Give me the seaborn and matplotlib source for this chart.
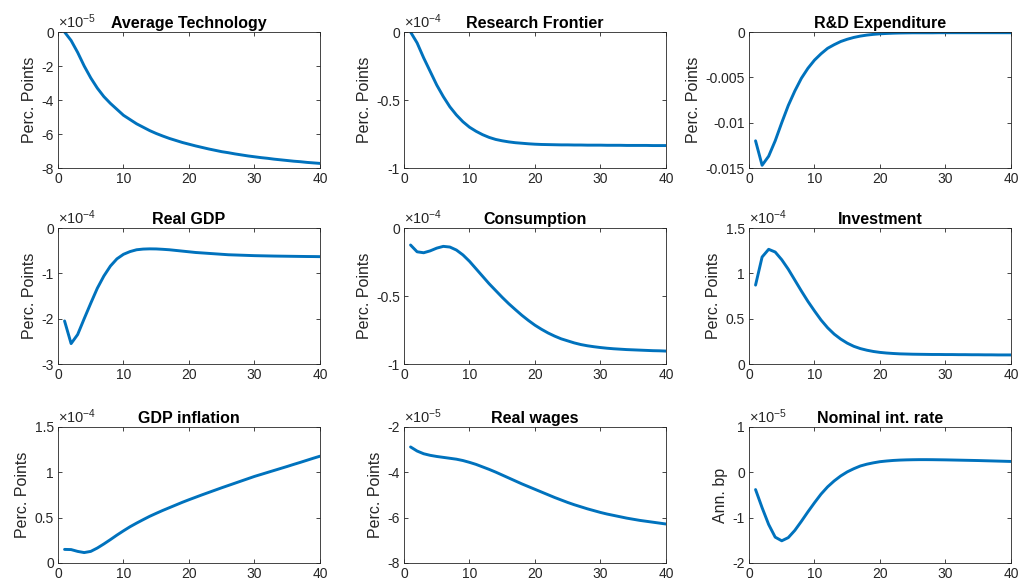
import numpy as np
import pandas as pd
import matplotlib
matplotlib.use("Agg")
import matplotlib.pyplot as plt
import seaborn as sns
from matplotlib.ticker import FuncFormatter

sns.set_theme(style="ticks")
plt.rcParams['font.family'] = ['Liberation Sans', 'DejaVu Sans']
plt.rcParams['axes.unicode_minus'] = False
plt.rcParams['mathtext.default'] = 'regular'

periods = list(range(1, 41))

titles = ["Average Technology", "Research Frontier", "R&D Expenditure",
          "Real GDP", "Consumption", "Investment",
          "GDP inflation", "Real wages", "Nominal int. rate"]
ylabels = ["Perc. Points"] * 8 + ["Ann. bp"]
exponents = [-5, -4, None, -4, -4, -4, -4, -5, -5]

avg_tech = [0, -0.5, -1.2, -2.0, -2.7, -3.3, -3.8, -4.2, -4.55, -4.9,
            -5.15, -5.4, -5.6, -5.8, -5.97, -6.12, -6.26, -6.38, -6.5, -6.6,
            -6.7, -6.79, -6.88, -6.96, -7.04, -7.1, -7.17, -7.23, -7.29, -7.34,
            -7.39, -7.43, -7.48, -7.52, -7.56, -7.6, -7.63, -7.67, -7.7, -7.73]
research_frontier = [0, -0.08, -0.19, -0.29, -0.39, -0.475, -0.55, -0.61, -0.66, -0.70,
                     -0.73, -0.755, -0.775, -0.79, -0.80, -0.808, -0.814, -0.818, -0.822, -0.825,
                     -0.827, -0.828, -0.829, -0.83, -0.83, -0.831, -0.831, -0.832, -0.832, -0.832,
                     -0.833, -0.833, -0.833, -0.834, -0.834, -0.834, -0.834, -0.835, -0.835, -0.835]
rd_expenditure = [-0.0120, -0.0147, -0.0137, -0.0120, -0.0100, -0.0081, -0.0065, -0.0051, -0.0040, -0.0031,
                  -0.0024, -0.0018, -0.0014, -0.00105, -0.0008, -0.0006, -0.00045, -0.00034, -0.00026, -0.0002,
                  -0.00016, -0.00013, -0.00011, -0.0001, -0.00009, -0.00009, -0.00009, -0.00009, -0.00008, -0.00008,
                  -0.00008, -0.00008, -0.00008, -0.00008, -0.00008, -0.00008, -0.00008, -0.00008, -0.00008, -0.00008]
real_gdp = [-2.05, -2.55, -2.35, -2.0, -1.66, -1.33, -1.06, -0.84, -0.68, -0.58,
            -0.52, -0.48, -0.465, -0.46, -0.462, -0.47, -0.48, -0.495, -0.51, -0.525,
            -0.54, -0.55, -0.56, -0.57, -0.58, -0.59, -0.595, -0.60, -0.605, -0.61,
            -0.613, -0.616, -0.619, -0.621, -0.623, -0.625, -0.627, -0.629, -0.63, -0.632]
consumption = [-0.125, -0.175, -0.182, -0.168, -0.148, -0.135, -0.14, -0.162, -0.198, -0.245,
               -0.3, -0.355, -0.41, -0.46, -0.51, -0.557, -0.60, -0.642, -0.68, -0.715,
               -0.745, -0.772, -0.795, -0.815, -0.83, -0.845, -0.857, -0.866, -0.873, -0.879,
               -0.884, -0.888, -0.891, -0.894, -0.896, -0.898, -0.9, -0.902, -0.903, -0.905]
investment = [0.87, 1.18, 1.265, 1.235, 1.15, 1.045, 0.925, 0.805, 0.69, 0.585,
              0.485, 0.40, 0.33, 0.275, 0.23, 0.195, 0.17, 0.152, 0.138, 0.128,
              0.121, 0.116, 0.112, 0.11, 0.108, 0.107, 0.106, 0.105, 0.105, 0.104,
              0.104, 0.103, 0.103, 0.102, 0.102, 0.101, 0.101, 0.1, 0.1, 0.1]
gdp_inflation = [0.15, 0.148, 0.128, 0.115, 0.128, 0.165, 0.21, 0.258, 0.308, 0.355,
                 0.4, 0.44, 0.478, 0.515, 0.548, 0.58, 0.61, 0.64, 0.67, 0.698,
                 0.725, 0.752, 0.778, 0.804, 0.83, 0.855, 0.88, 0.905, 0.93, 0.955,
                 0.977, 0.999, 1.021, 1.043, 1.065, 1.088, 1.11, 1.133, 1.156, 1.178]
real_wages = [-2.88, -3.06, -3.18, -3.25, -3.3, -3.34, -3.38, -3.42, -3.48, -3.56,
              -3.65, -3.76, -3.87, -3.99, -4.12, -4.25, -4.38, -4.51, -4.63, -4.75,
              -4.87, -4.99, -5.11, -5.22, -5.33, -5.43, -5.52, -5.61, -5.69, -5.77,
              -5.84, -5.9, -5.96, -6.02, -6.07, -6.12, -6.16, -6.2, -6.24, -6.28]
nominal_rate = [-0.38, -0.78, -1.15, -1.43, -1.51, -1.44, -1.28, -1.08, -0.87, -0.67,
                -0.48, -0.32, -0.19, -0.08, 0.01, 0.08, 0.14, 0.18, 0.21, 0.235,
                0.25, 0.262, 0.27, 0.275, 0.278, 0.28, 0.28, 0.279, 0.277, 0.275,
                0.272, 0.269, 0.266, 0.263, 0.26, 0.256, 0.252, 0.248, 0.244, 0.24]

series = [avg_tech, research_frontier, rd_expenditure, real_gdp, consumption,
          investment, gdp_inflation, real_wages, nominal_rate]

yticks = [[-8, -6, -4, -2, 0], [-1, -0.5, 0], [-0.015, -0.01, -0.005, 0],
          [-3, -2, -1, 0], [-1, -0.5, 0], [0, 0.5, 1, 1.5],
          [0, 0.5, 1, 1.5], [-8, -6, -4, -2], [-2, -1, 0, 1]]
xticks = [0, 10, 20, 30, 40]

W, H = 1020, 587
fig = plt.figure(figsize=(W / 100, H / 100), dpi=100)
fig.patch.set_facecolor('white')

col_left = [58, 404, 749]
col_width = 262
row_top = [32, 228, 427]
row_height = 136

dark = '#262626'
line_color = '#0072BD'

for i in range(9):
    r, c = divmod(i, 3)
    ax = fig.add_axes([col_left[c] / W, 1 - (row_top[r] + row_height) / H,
                       col_width / W, row_height / H])
    df = pd.DataFrame({"period": periods, "value": series[i]})
    sns.lineplot(data=df, x="period", y="value", ax=ax, color=line_color,
                 linewidth=2.1)
    ax.set_xlim(0, 40)
    ax.set_ylim(min(yticks[i]), max(yticks[i]))
    ax.set_xticks(xticks)
    ax.set_yticks(yticks[i])
    ax.yaxis.set_major_formatter(FuncFormatter(lambda v, p: '%g' % round(v, 6)))
    ax.set_xlabel("")
    ax.set_ylabel(ylabels[i], fontsize=11.5, color=dark, labelpad=3)
    ax.set_title(titles[i], fontsize=11.5, fontweight='bold', color='black', pad=3)
    ax.tick_params(direction='in', top=True, right=True, length=3, width=0.6,
                   labelsize=10, colors=dark, pad=3)
    for s in ax.spines.values():
        s.set_visible(True)
        s.set_color(dark)
        s.set_linewidth(0.6)
    if exponents[i] is not None:
        ax.text(0.0, 1.005, r'$\times10^{%d}$' % exponents[i], transform=ax.transAxes,
                ha='left', va='bottom', fontsize=10.5, color=dark)

fig.savefig("out.png", dpi=100, facecolor='white')
